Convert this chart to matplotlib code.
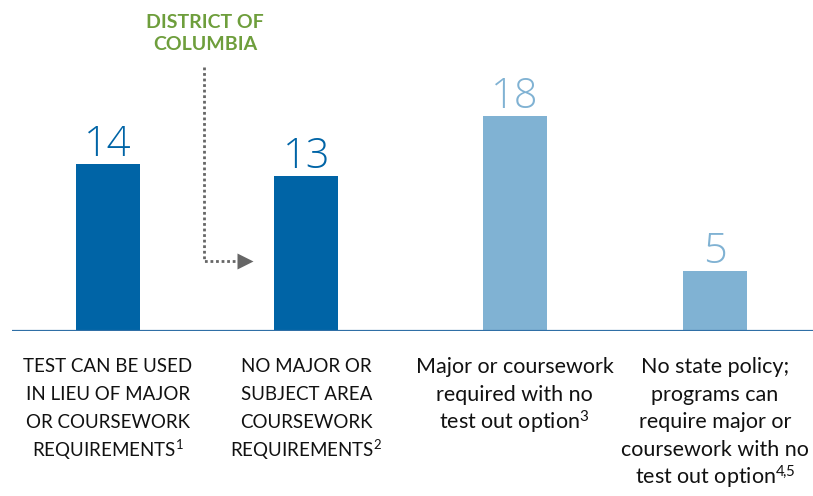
import matplotlib
matplotlib.use("Agg")
import matplotlib.pyplot as plt

plt.rcParams["mathtext.fontset"] = "custom"
plt.rcParams["mathtext.rm"] = "Lato"
plt.rcParams["mathtext.it"] = "Lato"

categories = [
    ["TEST CAN BE USED", "IN LIEU OF MAJOR", "OR COURSEWORK", r"REQUIREMENTS$^{\mathrm{1}}$"],
    ["NO MAJOR OR", "SUBJECT AREA", "COURSEWORK", r"REQUIREMENTS$^{\mathrm{2}}$"],
    ["Major or coursework", "required with no", r"test out option$^{\mathrm{3}}$"],
    ["No state policy;", "programs can", "require major or", "coursework with no",
     r"test out option$^{\mathrm{4}\!,\!\mathrm{5}}$"],
]
upper = [True, True, False, False]
values = [14, 13, 18, 5]
bar_colors = ["#0064A6", "#0064A6", "#80B2D3", "#80B2D3"]
positions = [0, 0.98, 2.01, 3.0]

W, H = 813, 496
fig = plt.figure(figsize=(W / 100, H / 100), dpi=100)
base = 331
ax = fig.add_axes([12 / W, (H - base) / H, 1 - 12 / W, base / H])
unit = 202.3
xmin = -96 / unit
ax.set_xlim(xmin, xmin + 801 / unit)
ax.set_ylim(0, base / 11.93)
ax.axis("off")

ax.bar(positions, values, width=64 / unit, color=bar_colors, zorder=2)
ax.axhline(0, color="#2f6fa6", lw=1.6, zorder=3)

for x, v, c in zip(positions, values, bar_colors):
    ax.text(x, v + 0.68, str(v), ha="center", va="baseline", fontsize=30,
            fontweight="light", color=c, family=["Open Sans", "DejaVu Sans"])

# category labels below the axis
for x, lines, up in zip(positions, categories, upper):
    px = 12 + (x - xmin) * unit
    fs = 13.5 if up else 15.5
    for i, line in enumerate(lines):
        fig.text(px / W, 1 - (367 + i * 27.7) / H, line,
                 ha="center", va="center", fontsize=fs, color="#111111",
                 family=["Lato", "DejaVu Sans"])

# District of Columbia annotation
vx = (204 - 108) / unit
ytop = (base - 67) / 11.93
ybot = (base - 261) / 11.93
ax.plot([vx, vx, (240 - 108) / unit], [ytop, ybot, ybot], color="#666666",
        lw=2, ls=(0, (1, 1)), clip_on=False, zorder=4)
ax.plot([(245 - 108) / unit], [ybot], marker=">", ms=11, color="#666666",
        mec="none", clip_on=False, zorder=4)
fig.text(205 / W, 1 - 22 / H, "DISTRICT OF", ha="center", va="center",
         fontsize=14, fontweight="bold", color="#6E9E3C", family=["Lato", "DejaVu Sans"])
fig.text(205 / W, 1 - 44 / H, "COLUMBIA", ha="center", va="center",
         fontsize=14, fontweight="bold", color="#6E9E3C", family=["Lato", "DejaVu Sans"])

fig.savefig("out.png", dpi=100)
